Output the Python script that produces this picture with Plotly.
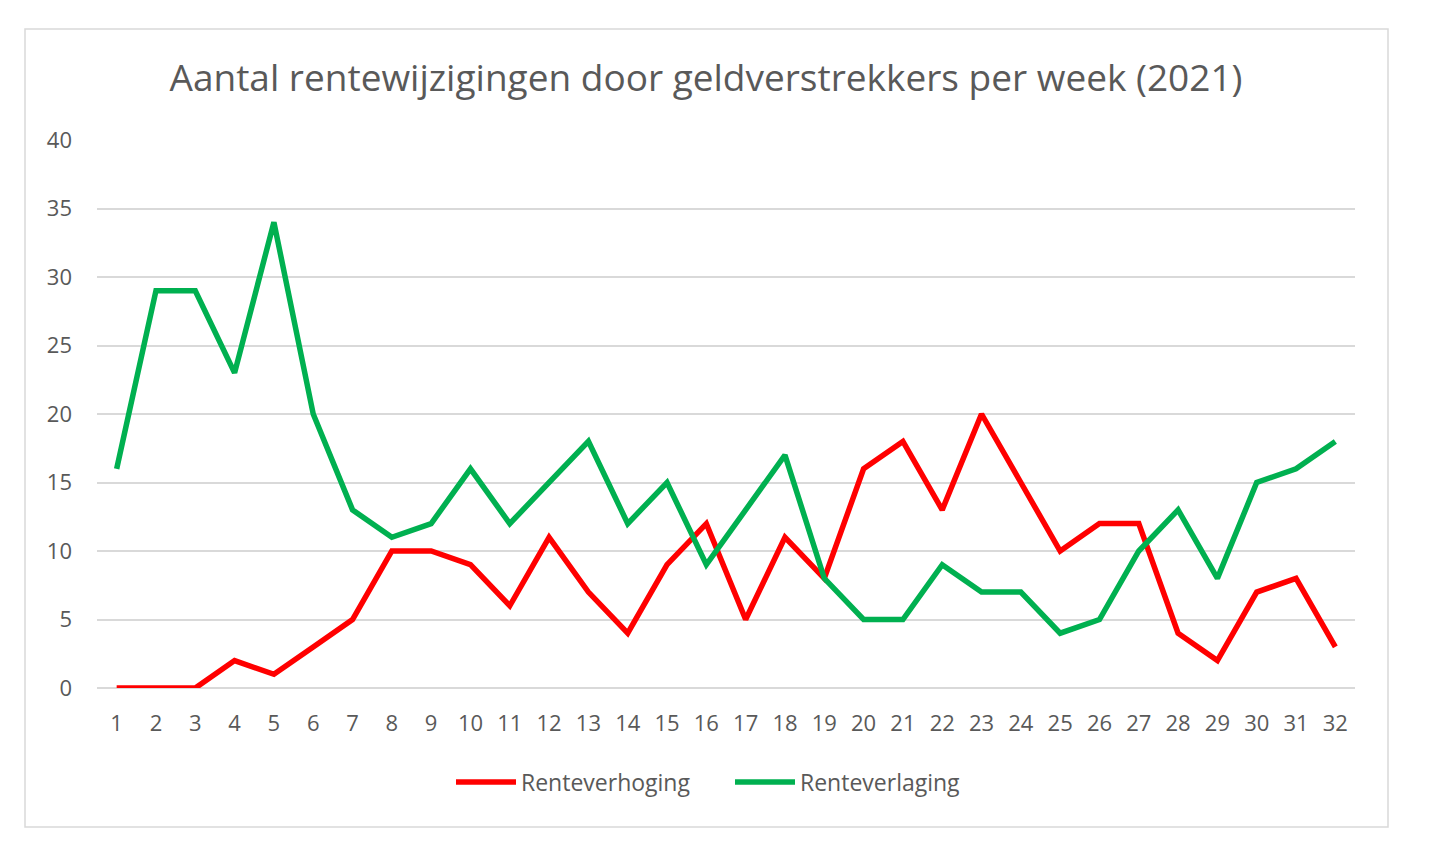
import plotly.graph_objects as go

# Weeks 2021 and number of rate changes
weeks = [str(w) for w in range(1, 33)]
renteverhoging = [0, 0, 0, 2, 1, 3, 5, 10, 10, 9, 6, 11, 7, 4, 9, 12,
                  5, 11, 8, 16, 18, 13, 20, 15, 10, 12, 12, 4, 2, 7, 8, 3]
renteverlaging = [16, 29, 29, 23, 34, 20, 13, 11, 12, 16, 12, 15, 18, 12, 15, 9,
                  13, 17, 8, 5, 5, 9, 7, 7, 4, 5, 10, 13, 8, 15, 16, 18]
y_ticks = [0, 5, 10, 15, 20, 25, 30, 35, 40]

grey = "#595959"
font_family = "Open Sans, Liberation Sans, sans-serif"

fig = go.Figure()
fig.add_trace(go.Scatter(x=weeks, y=renteverhoging, mode="lines", name="Renteverhoging",
                         line=dict(color="#ff0000", width=5.5)))
fig.add_trace(go.Scatter(x=weeks, y=renteverlaging, mode="lines", name="Renteverlaging",
                         line=dict(color="#00b050", width=5.5)))

# page is shown with an 8px offset; plot area x 89..1347, y 132..680
pw, ph = 1258, 548
fig.update_layout(
    width=1440, height=855,
    margin=dict(l=89, r=93, t=132, b=175),
    paper_bgcolor="white", plot_bgcolor="white",
    font=dict(family=font_family, color=grey, size=22),
    title=dict(text="Aantal rentewijzigingen door geldverstrekkers per week (2021)",
               x=698 / 1440, xanchor="center", y=1 - 70 / 855, yanchor="middle",
               font=dict(size=37, color=grey)),
    xaxis=dict(type="category", range=[-0.5, 31.5], showgrid=False, showline=False,
               ticks="", tickfont=dict(size=22, color=grey), ticklabelstandoff=20),
    yaxis=dict(range=[0, 40], tickvals=y_ticks, showgrid=True, gridcolor="#d9d9d9",
               gridwidth=2, zeroline=True, zerolinecolor="#d9d9d9", zerolinewidth=2,
               ticks="", tickfont=dict(size=22, color=grey), ticklabelstandoff=24),
    legend=dict(orientation="h", x=(722 - 89) / pw, xanchor="center",
                y=(680 - 774) / ph, yanchor="middle",
                font=dict(size=23, color=grey), itemwidth=60,
                entrywidth=204, entrywidthmode="pixels"),
    showlegend=True,
)

# chart border
fig.add_shape(type="rect", xref="paper", yref="paper",
              x0=(17 - 89) / pw, x1=(1380 - 89) / pw,
              y0=(680 - 819) / ph, y1=(680 - 21) / ph,
              line=dict(color="#d9d9d9", width=1.5), fillcolor="rgba(0,0,0,0)",
              layer="below")

fig.write_html("out.html")
